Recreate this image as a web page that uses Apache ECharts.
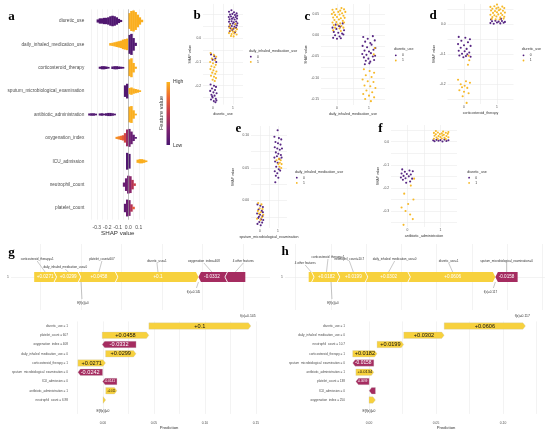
<!DOCTYPE html>
<html lang="en">
<head>
<meta charset="utf-8">
<title>SHAP summary, dependence, force and waterfall plots</title>
<script src="https://cdn.jsdelivr.net/npm/echarts@6/dist/echarts.min.js"></script>
<style>
  html, body { margin: 0; height: 100%; background: #fff; }
  #main { width: 550px; height: 437px; }
</style>
</head>
<body>
<div id="main"></div>
<script>
// ---------- panel a: beeswarm summary ----------
const featuresA = ['diuretic_use', 'daily_inhaled_medication_use', 'corticosteroid_therapy',
  'sputum_microbiological_examination', 'antibiotic_administration', 'oxygenation_index',
  'ICU_admission', 'neutrophil_count', 'platelet_count'];
// [SHAP value, relative density, feature value 0 (low) .. 1 (high)]
const swarmDiuretic = [[-0.29,0.15,0.03],[-0.27,0.25,0.03],[-0.25,0.25,0.03],[-0.23,0.3,0.03],[-0.21,0.3,0.03],
  [-0.19,0.35,0.03],[-0.17,0.45,0.03],[-0.15,0.5,0.03],[-0.13,0.45,0.03],[-0.11,0.35,0.03],[-0.09,0.2,0.03],[-0.07,0.1,0.03],
  [0.01,0.75,0.98],[0.03,0.95,0.98],[0.05,1.0,0.98],[0.07,0.85,0.98],[0.09,0.6,0.98],[0.11,0.35,0.98],[0.13,0.12,0.98]];
const swarmDaily = [[-0.17,0.12,0.98],[-0.15,0.15,0.98],[-0.13,0.2,0.98],[-0.11,0.25,0.98],[-0.09,0.3,0.98],
  [-0.07,0.35,0.98],[-0.05,0.45,0.98],[-0.03,0.5,0.98],[-0.01,0.55,0.98],
  [0.01,0.9,0.03],[0.03,1.0,0.03],[0.05,0.6,0.03],[0.07,0.15,0.03]];
const swarmCortico = [[-0.27,0.1,0.03],[-0.25,0.15,0.03],[-0.23,0.15,0.03],[-0.21,0.12,0.03],[-0.19,0.08,0.03],
  [-0.15,0.12,0.03],[-0.13,0.15,0.03],[-0.11,0.15,0.03],[-0.09,0.12,0.03],[-0.07,0.1,0.03],[-0.05,0.08,0.03],
  [0.01,0.8,0.98],[0.03,0.9,0.98],[0.05,0.45,0.98],[0.07,0.1,0.98]];
const swarmSputum = [[-0.03,0.55,0.03],[-0.01,0.7,0.03],
  [0.01,0.3,0.98],[0.03,0.35,0.98],[0.05,0.25,0.98],[0.07,0.2,0.98],[0.09,0.15,0.98],[0.11,0.08,0.98]];
const swarmAntibiotic = [[-0.37,0.1,0.03],[-0.35,0.12,0.03],[-0.33,0.12,0.03],[-0.31,0.08,0.03],[-0.27,0.1,0.03],
  [-0.25,0.12,0.03],[-0.23,0.08,0.03],[-0.21,0.12,0.03],[-0.19,0.15,0.03],[-0.17,0.15,0.03],[-0.15,0.12,0.03],[-0.13,0.08,0.03],
  [0.01,0.75,0.98],[0.03,0.8,0.98],[0.05,0.4,0.98],[0.07,0.08,0.98]];
const swarmOxygen = [[-0.11,0.1,0.9],[-0.09,0.15,0.85],[-0.07,0.2,0.8],[-0.05,0.25,0.7],[-0.03,0.45,0.6],
  [-0.01,0.8,0.35],[0.01,0.85,0.2],[0.03,0.6,0.15],[0.05,0.3,0.1],[0.07,0.08,0.05]];
const swarmIcu = [[-0.01,0.8,0.03],[0.01,0.7,0.03],
  [0.09,0.15,0.98],[0.11,0.2,0.98],[0.13,0.2,0.98],[0.15,0.15,0.98],[0.17,0.08,0.98]];
const swarmNeutrophil = [[-0.04,0.2,0.15],[-0.02,0.6,0.15],[0.0,0.85,0.2],[0.02,0.8,0.3],[0.04,0.45,0.45],[0.06,0.12,0.55]];
const swarmPlatelet = [[-0.03,0.4,0.1],[-0.01,0.8,0.15],[0.01,0.75,0.25],[0.03,0.35,0.45],[0.05,0.12,0.7]];
const swarmRows = [swarmDiuretic, swarmDaily, swarmCortico, swarmSputum, swarmAntibiotic,
  swarmOxygen, swarmIcu, swarmNeutrophil, swarmPlatelet];
const ticksA = [-0.35,-0.3,-0.25,-0.2,-0.15,-0.1,-0.05,0,0.05,0.1,0.15];
const labelsA = [-0.3,-0.2,-0.1,0,0.1];

// ---------- panels b-f: dependence plots, [feature value (jittered), SHAP value] ----------
const bColor0 = [[0.80,0.112],[0.92,0.118],[1.05,0.110],[1.18,0.105],[0.85,0.100],[0.97,0.103],[1.10,0.098],[1.21,0.095],
  [0.79,0.090],[0.90,0.092],[1.02,0.088],[1.14,0.090],[0.83,0.080],[0.95,0.082],[1.08,0.079],[1.20,0.083],[0.80,0.070],
  [0.93,0.072],[1.04,0.068],[1.16,0.071],[0.86,0.060],[0.99,0.062],[1.12,0.058],[1.22,0.063],[0.81,0.050],[0.94,0.052],
  [1.07,0.048],[1.19,0.054],[0.88,0.042],[1.01,0.040],[1.15,0.044],[0.84,0.030],[1.10,0.025],[0.96,0.035],
  [-0.12,-0.195],[0.05,-0.200],[0.15,-0.205],[-0.05,-0.212],[0.10,-0.218],[-0.14,-0.222],[0.02,-0.228],[0.18,-0.232],
  [-0.08,-0.238],[0.08,-0.242],[-0.02,-0.250],[0.14,-0.255],[-0.10,-0.258],[0.04,-0.265],[0.12,-0.270],[-0.04,-0.245],
  [0.17,-0.262],[-0.10,-0.068],[0.06,-0.075],[-0.02,-0.090],[0.12,-0.085],[0.16,-0.100]];
const bColor1 = [[0.82,0.045],[0.95,0.040],[1.08,0.042],[1.20,0.038],[0.87,0.032],[1.00,0.028],[1.13,0.030],[0.80,0.022],
  [0.93,0.018],[1.06,0.020],[1.18,0.016],[0.90,0.010],[1.03,0.008],[0.85,0.055],[1.12,0.060],
  [-0.12,-0.062],[0.04,-0.070],[0.16,-0.078],[-0.06,-0.085],[0.10,-0.092],[-0.14,-0.100],[0.00,-0.105],[0.14,-0.112],
  [-0.08,-0.118],[0.07,-0.122],[-0.13,-0.130],[0.02,-0.135],[0.17,-0.140],[-0.04,-0.145],[0.11,-0.150],[-0.10,-0.158],
  [0.05,-0.162],[0.15,-0.168],[-0.02,-0.175],[0.09,-0.180]];
const cColor0 = [[-0.14,0.018],[-0.02,0.015],[0.10,0.020],[0.22,0.012],[-0.10,0.008],[0.04,0.006],[0.16,0.004],[-0.06,0.000],
  [0.08,-0.003],[0.20,0.002],[-0.12,-0.006],[0.00,-0.008],[0.12,-0.007],[-0.04,0.025],[0.18,0.028],[0.06,0.022],
  [0.82,-0.004],[0.96,-0.008],[1.12,-0.002],[0.88,-0.015],[1.04,-0.018],[1.18,-0.012],[0.80,-0.025],[0.94,-0.028],
  [1.08,-0.022],[1.20,-0.030],[0.86,-0.036],[1.00,-0.038],[1.14,-0.034],[0.79,-0.044],[0.92,-0.046],[1.06,-0.042],
  [1.19,-0.048],[0.84,-0.052],[0.98,-0.055],[1.12,-0.050],[0.90,-0.060],[1.04,-0.062],[1.16,-0.058],[0.87,-0.068],[1.01,-0.066]];
const cColor1 = [[-0.14,0.060],[-0.02,0.062],[0.10,0.058],[0.22,0.061],[-0.10,0.054],[0.04,0.055],[0.16,0.052],[-0.06,0.048],
  [0.08,0.049],[0.20,0.046],[-0.12,0.042],[0.00,0.043],[0.12,0.040],[0.24,0.041],[-0.08,0.036],[0.06,0.037],[0.18,0.034],
  [-0.14,0.030],[-0.02,0.031],[0.10,0.028],[0.22,0.030],[-0.10,0.024],[0.02,0.025],[0.14,0.022],[-0.06,0.018],[0.08,0.016],
  [0.20,0.018],[-0.12,0.012],[0.12,0.010],[-0.16,0.050],[0.26,0.055],[0.14,0.064],
  [0.84,-0.080],[1.02,-0.084],[1.16,-0.088],[0.90,-0.094],[1.08,-0.098],[0.80,-0.104],[0.96,-0.108],[1.14,-0.110],
  [0.86,-0.118],[1.04,-0.120],[1.20,-0.124],[0.92,-0.130],[1.10,-0.134],[0.82,-0.138],[1.00,-0.142],[1.16,-0.146],
  [0.88,-0.150],[1.06,-0.155],[1.18,-0.030],[1.15,-0.045]];
const dColor0 = [[0.80,0.004],[0.90,0.002],[1.00,0.006],[1.10,0.003],[1.20,0.005],[0.85,0.010],[0.95,0.012],[1.05,0.009],
  [1.15,0.011],[1.24,0.008],[0.82,0.016],[1.12,0.018],
  [-0.16,-0.042],[0.04,-0.045],[0.18,-0.050],[-0.08,-0.055],[0.12,-0.060],[-0.18,-0.066],[0.00,-0.070],[0.20,-0.072],
  [-0.10,-0.078],[0.08,-0.082],[-0.16,-0.088],[0.02,-0.090],[0.16,-0.094],[-0.06,-0.098],[0.10,-0.100],[-0.14,-0.104],
  [0.06,-0.106],[0.20,-0.108],[-0.02,-0.110]];
const dColor1 = [[0.80,0.058],[0.92,0.060],[1.04,0.056],[1.16,0.059],[0.86,0.052],[0.98,0.053],[1.10,0.050],[1.22,0.054],
  [0.82,0.046],[0.94,0.044],[1.06,0.047],[1.18,0.045],[0.88,0.038],[1.00,0.040],[1.12,0.037],[1.24,0.039],[0.80,0.032],
  [0.92,0.030],[1.04,0.033],[1.16,0.031],[0.86,0.024],[0.98,0.026],[1.10,0.023],[1.22,0.025],[0.84,0.018],[0.96,0.017],
  [1.08,0.016],[1.20,0.019],[1.00,0.066],
  [0.14,-0.105],[0.16,-0.120],[0.12,-0.135],[-0.18,-0.185],[0.06,-0.190],[0.18,-0.195],[-0.10,-0.200],[0.02,-0.205],
  [-0.06,-0.210],[0.10,-0.212],[-0.14,-0.220],[0.00,-0.225],[0.14,-0.230],[-0.04,-0.240],[0.08,-0.262]];
const eColor0 = [[0.98,0.108],[0.80,0.098],[1.05,0.096],[1.18,0.094],[0.86,0.090],[1.00,0.088],[1.14,0.086],[0.82,0.082],
  [0.96,0.080],[1.10,0.078],[1.22,0.080],[0.88,0.074],[1.02,0.072],[1.16,0.070],[0.80,0.066],[0.94,0.068],[1.08,0.064],
  [1.20,0.066],[0.84,0.060],[0.98,0.058],[0.90,0.052],[1.04,0.048],[0.82,0.045],[0.96,0.042],[1.12,0.046],[0.88,0.038],
  [1.02,0.035],[0.85,0.028],
  [-0.14,-0.006],[0.02,-0.008],[0.16,-0.010],[-0.08,-0.014],[0.10,-0.016],[-0.16,-0.020],[0.00,-0.022],[0.14,-0.024],
  [-0.10,-0.027],[0.06,-0.029],[0.18,-0.030],[-0.04,-0.033],[0.12,-0.034],[-0.14,-0.036],[0.04,-0.038],[0.00,-0.044],
  [0.16,-0.018],[-0.06,-0.025]];
const eColor1 = [[1.05,0.064],[1.15,0.062],[1.10,0.058],[1.20,0.056],[1.08,0.052],[1.18,0.050],[0.92,0.062],[1.02,0.056],
  [-0.10,-0.004],[0.08,-0.006],[-0.02,-0.012],[0.14,-0.013],[-0.12,-0.016],[0.04,-0.018],[0.18,-0.022],[-0.06,-0.020],
  [0.10,-0.026],[-0.16,-0.028],[0.02,-0.030]];
const fColor0 = [[0.82,0.002],[0.94,0.004],[1.06,0.001],[1.18,0.003],[0.88,0.008],[1.00,0.007],[1.12,0.009],[1.24,0.006],[0.78,0.006],
  [-0.16,-0.120],[0.06,-0.125],[-0.08,-0.130],[0.16,-0.128],[-0.18,-0.138],[-0.02,-0.140],[0.10,-0.142],[-0.12,-0.148],
  [0.04,-0.150],[-0.20,-0.155],[-0.06,-0.158],[0.14,-0.160],[-0.14,-0.165],[0.08,-0.172],[-0.04,-0.178]];
const fColor1 = [[0.80,0.038],[0.92,0.040],[1.04,0.036],[1.16,0.039],[1.24,0.042],[0.86,0.032],[0.98,0.033],[1.10,0.030],
  [1.22,0.034],[0.82,0.026],[0.94,0.024],[1.06,0.027],[1.18,0.025],[0.88,0.018],[1.00,0.020],[1.12,0.017],[1.24,0.019],
  [0.80,0.013],[0.92,0.012],[1.04,0.014],[1.16,0.011],[0.86,0.046],[1.08,0.044],
  [0.20,-0.160],[0.10,-0.190],[-0.10,-0.225],[0.18,-0.250],[-0.18,-0.285],[-0.06,-0.300],[0.08,-0.315],[0.16,-0.335],
  [-0.12,-0.360],[0.02,-0.270]];

// ---------- panels g/h: force and waterfall ----------
const forceFeaturesG = ['corticosteroid_therapy=1', 'daily_inhaled_medication_use=0', 'platelet_count=607',
  'diuretic_use=1', 'oxygenation_index=408', '4 other features'];
const forceShapG = [0.0271, 0.0299, 0.0458, 0.1, -0.0332, -0.0246];
const waterFeaturesG = ['diuretic_use = 1', 'platelet_count = 607', 'oxygenation_index = 408',
  'daily_inhaled_medication_use = 0', 'corticosteroid_therapy = 1', 'sputum_microbiological_examination = 0',
  'ICU_admission = 0', 'antibiotic_administration = 1', 'neutrophil_count = 6.98'];
const waterShapG = [0.1, 0.0458, -0.0332, 0.0299, 0.0271, -0.0242, -0.0141, 0.011, 0.0027];
const forceFeaturesH = ['4 other features', 'corticosteroid_therapy=1', 'neutrophil_count=10.7',
  'daily_inhaled_medication_use=0', 'diuretic_use=1', 'sputum_microbiological_examination=0'];
const forceShapH = [0.0035, 0.0182, 0.0199, 0.0302, 0.0606, -0.0158];
const waterFeaturesH = ['diuretic_use = 1', 'daily_inhaled_medication_use = 0', 'neutrophil_count = 10.7',
  'corticosteroid_therapy = 1', 'sputum_microbiological_examination = 0', 'antibiotic_administration = 1',
  'platelet_count = 138', 'ICU_admission = 0', 'oxygenation_index = 250'];
const waterShapH = [0.0606, 0.0302, 0.0199, 0.0182, -0.0158, 0.0134, -0.0099, -0.0047, 0.0048];
const baseline = 0;
const forceTicksG = [-0.05, 0, 0.05, 0.1, 0.15, 0.2];
const forceTicksH = [-0.025, 0, 0.025, 0.05, 0.075, 0.1, 0.125, 0.15];
const waterTicksG = [-0.025, 0, 0.025, 0.05, 0.075, 0.1, 0.125, 0.15];
const waterLabelsG = [0, 0.05, 0.1, 0.15];
const waterTicksH = [0, 0.025, 0.05, 0.075, 0.1, 0.125];
const waterLabelsH = [0, 0.05, 0.1];

// label nudges for force plot annotations (px, relative to the segment centre on the bar top)
const nudgeG = [[-8, -13], [-3, -5], [3, -13], [-1, -11], [-8, -11], [8, -11]];
const nudgeH = [[-6, -9], [1.5, -15], [-4, -13], [6, -13], [-4, -11], [0, -11]];

const FONT = '"Liberation Sans", Arial, sans-serif';
const SERIF = '"Liberation Serif", "Times New Roman", serif';
const TEXT = '#4d4d4d';
const GRIDC = '#ebebeb';
const PURPLE = '#4e1a7c';
const ORANGE = '#f6b51d';
const POS = '#f7d13d';
const NEG = '#a52c60';
const swarmPalette = ['#4a1670', '#7e2272', '#c0374f', '#ee6532', '#fbb41c'];

function fmtShap(v) {
  const s = String(Number(v.toPrecision(3)));
  return (v > 0 ? '+' : '') + s;
}

function valueAxis(grid, min, max, ticks, labels, digits, fs, margin) {
  return {
    type: 'value', gridIndex: grid, min: min, max: max,
    axisLine: { show: false },
    axisTick: { show: false, customValues: ticks },
    axisLabel: {
      show: labels.length > 0, customValues: labels, fontSize: fs, color: TEXT,
      fontFamily: FONT, margin: margin, formatter: v => v.toFixed(digits)
    },
    splitLine: { show: true, lineStyle: { color: GRIDC, width: 0.6 } }
  };
}

const grids = [];
const xAxes = [];
const yAxes = [];
const series = [];
const graphics = [];

// ---- panel a ----
grids.push({ left: 86.3, top: 9.3, width: 63, height: 210.4 });
xAxes.push(Object.assign(valueAxis(0, -0.4, 0.2, ticksA, labelsA, 1, 5, 5), {
  name: 'SHAP value', nameLocation: 'middle', nameGap: 10,
  nameTextStyle: { fontSize: 6.2, color: '#333', fontFamily: FONT }
}));
yAxes.push({
  type: 'category', gridIndex: 0, data: featuresA, inverse: true,
  axisLine: { show: false }, axisTick: { show: false },
  axisLabel: { interval: 0, fontSize: 4.7, color: TEXT, fontFamily: FONT, margin: 2 },
  splitLine: { show: false }
});
const swarmData = [];
swarmRows.forEach((row, i) => row.forEach(p => swarmData.push([p[0], i, p[1], p[2]])));
series.push({
  type: 'scatter', xAxisIndex: 0, yAxisIndex: 0, data: [], z: 1,
  markLine: {
    silent: true, symbol: 'none', label: { show: false },
    lineStyle: { color: '#9a9a9a', width: 0.6, type: 'solid' }, data: [{ xAxis: 0 }]
  }
});
series.push({
  type: 'custom', xAxisIndex: 0, yAxisIndex: 0, data: swarmData, z: 3,
  renderItem: function (params, api) {
    const p = api.coord([api.value(0), api.value(1)]);
    const w = api.size([0.02, 0])[0];
    const band = api.size([0, 1])[1];
    const hh = api.value(2) * band * 0.45;
    return {
      type: 'rect',
      shape: { x: p[0] - w / 2 - 0.2, y: p[1] - hh, width: w + 0.4, height: hh * 2 },
      style: { fill: echarts.color.lerp(api.value(3), swarmPalette) }
    };
  }
});
graphics.push({
  type: 'rect', shape: { x: 166.5, y: 82, width: 3.5, height: 63 },
  style: {
    fill: new echarts.graphic.LinearGradient(0, 0, 0, 1, swarmPalette.slice().reverse().map((c, i, a) => ({ offset: i / (a.length - 1), color: c })))
  }
});
graphics.push({ type: 'text', x: 173, y: 82, style: { text: 'High', fontSize: 5, fontFamily: FONT, fill: '#333', align: 'left', verticalAlign: 'middle' } });
graphics.push({ type: 'text', x: 173, y: 146, style: { text: 'Low', fontSize: 5, fontFamily: FONT, fill: '#333', align: 'left', verticalAlign: 'middle' } });
graphics.push({ type: 'text', x: 161, y: 113, rotation: Math.PI / 2, style: { text: 'Feature value', fontSize: 5.6, fontFamily: FONT, fill: '#333', align: 'center', verticalAlign: 'middle' } });

// ---- panels b-f ----
const depPanels = [
  { grid: { left: 203, top: 3.9, width: 40, height: 100.7 }, yMin: -0.2797, yMax: 0.1451,
    ticks: [-0.25,-0.2,-0.15,-0.1,-0.05,0,0.05,0.1], labels: [-0.2,-0.1,0], digits: 1,
    xName: 'diuretic_use', yGap: 9, legend: [249, 50.7, 'daily_inhaled_medication_use'], pts: [bColor0, bColor1] },
  { grid: { left: 321, top: 4, width: 64, height: 101 }, yMin: -0.164, yMax: 0.0736,
    ticks: [-0.15,-0.125,-0.1,-0.075,-0.05,-0.025,0,0.025,0.05], labels: [-0.15,-0.1,-0.05,0,0.05], digits: 2,
    xName: 'daily_inhaled_medication_use', yGap: 13, legend: [394, 49.3, 'diuretic_use'], pts: [cColor0, cColor1] },
  { grid: { left: 447.5, top: 4, width: 66, height: 100 }, yMin: -0.2657, yMax: 0.0677,
    ticks: [-0.25,-0.2,-0.15,-0.1,-0.05,0,0.05], labels: [-0.2,-0.1,0], digits: 1,
    xName: 'corticosteroid_therapy', yGap: 11, legend: [521.7, 49.3, 'diuretic_use'], pts: [dColor0, dColor1] },
  { grid: { left: 251, top: 126, width: 36, height: 102 }, yMin: -0.0423, yMax: 0.1146,
    ticks: [-0.025,0,0.025,0.05,0.075,0.1], labels: [0,0.05,0.1], digits: 2,
    xName: 'sputum_microbiological_examination', yGap: 16, legend: [295, 171.7, 'daily_inhaled_medication_use'], pts: [eColor0, eColor1] },
  { grid: { left: 391, top: 125, width: 66, height: 102 }, yMin: -0.3693, yMax: 0.0723,
    ticks: [-0.35,-0.3,-0.25,-0.2,-0.15,-0.1,-0.05,0,0.05], labels: [-0.3,-0.2,-0.1,0], digits: 1,
    xName: 'antibiotic_administration', yGap: 9, legend: [467.3, 171.7, 'diuretic_use'], pts: [fColor0, fColor1] }
];
depPanels.forEach((pn, k) => {
  const gi = k + 1;
  grids.push(pn.grid);
  xAxes.push(Object.assign(valueAxis(gi, -0.5, 1.5, [0, 0.5, 1], [0, 1], 0, 3.3, 2), {
    name: pn.xName, nameLocation: 'middle', nameGap: 7,
    nameTextStyle: { fontSize: 3.6, color: '#333', fontFamily: FONT }
  }));
  yAxes.push(Object.assign(valueAxis(gi, pn.yMin, pn.yMax, pn.ticks, pn.labels, pn.digits, 3.3, 2), {
    name: 'SHAP value', nameLocation: 'middle', nameRotate: 90, nameGap: pn.yGap,
    nameTextStyle: { fontSize: 3.4, color: '#333', fontFamily: FONT }
  }));
  [PURPLE, ORANGE].forEach((col, j) => {
    series.push({
      type: 'scatter', xAxisIndex: gi, yAxisIndex: gi, data: pn.pts[j],
      symbolSize: 2.1, itemStyle: { color: col, opacity: 0.95 }, silent: true
    });
  });
  const lx = pn.legend[0], ly = pn.legend[1];
  graphics.push({ type: 'text', x: lx, y: ly, style: { text: pn.legend[2], fontSize: 3.6, fontFamily: FONT, fill: '#333', align: 'left', verticalAlign: 'middle' } });
  ['0', '1'].forEach((t, j) => {
    graphics.push({ type: 'circle', shape: { cx: lx + 1.8, cy: ly + 6 + j * 5.2, r: 0.9 }, style: { fill: j ? ORANGE : PURPLE } });
    graphics.push({ type: 'text', x: lx + 8, y: ly + 6 + j * 5.2, style: { text: t, fontSize: 3.4, fontFamily: FONT, fill: '#333', align: 'left', verticalAlign: 'middle' } });
  });
});

// ---- force plots ----
function forceSegments(shap) {
  const neg = shap.filter(v => v < 0).reduce((s, v) => s + v, 0);
  let cur = baseline + neg;
  const posIdx = shap.map((v, i) => i).filter(i => shap[i] > 0);
  const negIdx = shap.map((v, i) => i).filter(i => shap[i] < 0);
  const out = [];
  posIdx.forEach((i, k) => { out.push([cur, cur + shap[i], 1, shap[i], i, k === 0 ? 1 : 0]); cur += shap[i]; });
  negIdx.forEach((i, k) => { out.push([cur, cur - shap[i], 1, shap[i], i, k === negIdx.length - 1 ? 1 : 0]); cur -= shap[i]; });
  return out;
}
function forceRender(names, nudge) {
  return function (params, api) {
    const a = api.value(0), b = api.value(1), v = api.value(3), i = api.value(4), edge = api.value(5);
    const pa = api.coord([a, 1]), pb = api.coord([b, 1]);
    const x0 = pa[0], x1 = pb[0], m = pa[1], hh = 5, tip = Math.min(2.5, (x1 - x0) / 2), g = 0.9;
    let pts;
    if (v > 0) {
      pts = edge ? [[x0, m - hh], [x1 - tip, m - hh], [x1, m], [x1 - tip, m + hh], [x0, m + hh]]
        : [[x0 - tip + g, m - hh], [x1 - tip, m - hh], [x1, m], [x1 - tip, m + hh], [x0 - tip + g, m + hh], [x0 + g, m]];
    } else {
      pts = edge ? [[x0, m], [x0 + tip, m - hh], [x1, m - hh], [x1, m + hh], [x0 + tip, m + hh]]
        : [[x0, m], [x0 + tip, m - hh], [x1 + tip - g, m - hh], [x1 - g, m], [x1 + tip - g, m + hh], [x0 + tip, m + hh]];
    }
    const cx = (x0 + x1) / 2;
    const txt = fmtShap(v);
    const children = [{ type: 'polygon', shape: { points: pts }, style: { fill: v > 0 ? POS : NEG } }];
    if (x1 - x0 > txt.length * 0.56 * 4.6 + 2) {
      children.push({ type: 'text', x: cx, y: m, style: { text: txt, fontSize: 4.6, fontFamily: FONT, fill: '#fff', align: 'center', verticalAlign: 'middle' } });
    }
    const n = nudge[i];
    children.push({ type: 'line', shape: { x1: cx, y1: m - hh, x2: cx + n[0], y2: m - hh + n[1] + 2 }, style: { stroke: '#777', lineWidth: 0.4 } });
    children.push({ type: 'text', x: cx + n[0], y: m - hh + n[1], style: { text: names[i], fontSize: 3, fontFamily: FONT, fill: '#333', align: 'center', verticalAlign: 'middle' } });
    return { type: 'group', children: children };
  };
}
function forceEnds(fLabel) {
  return function (params, api) {
    const p = api.coord([api.value(0), 1]);
    const isE = params.dataIndex === 0;
    const y0 = p[1] + 5;
    const tx = isE ? p[0] + 2 : p[0] - 5, ty = isE ? y0 + 21 : y0 + 10;
    return {
      type: 'group', children: [
        { type: 'line', shape: { x1: p[0], y1: y0, x2: tx - (isE ? 1 : -3), y2: ty - 4 }, style: { stroke: '#777', lineWidth: 0.4 } },
        { type: 'text', x: tx, y: ty, style: { text: isE ? 'E[f(x)]=' + baseline : fLabel, fontSize: 3, fontFamily: FONT, fill: '#333', align: 'center', verticalAlign: 'middle' } }
      ]
    };
  };
}
function waterSegments(shap) {
  const out = new Array(shap.length);
  let cur = baseline;
  for (let i = shap.length - 1; i >= 0; i--) { out[i] = [cur, cur + shap[i], i, shap[i]]; cur += shap[i]; }
  return out;
}
function waterRender(params, api) {
  const a = api.value(0), b = api.value(1), row = api.value(2), v = api.value(3);
  const pa = api.coord([a, row]), pb = api.coord([b, row]);
  const x0 = pa[0], x1 = pb[0], m = pa[1], hh = 3.2;
  const w = Math.abs(x1 - x0), tip = Math.min(2.5, w), s = v > 0 ? 1 : -1;
  const pts = [[x0, m - hh], [x1 - s * tip, m - hh], [x1, m], [x1 - s * tip, m + hh], [x0, m + hh]];
  const children = [{ type: 'polygon', shape: { points: pts }, style: { fill: v > 0 ? POS : NEG, stroke: '#c8c8c8', lineWidth: 0.3 } }];
  const txt = fmtShap(v);
  const fs = Math.min(5.6, (w - 2) / (txt.length * 0.56));
  if (fs >= 1.5) {
    children.push({ type: 'text', x: (x0 + x1) / 2, y: m, style: { text: txt, fontSize: fs, fontFamily: FONT, fill: v > 0 ? '#111' : '#fff', align: 'center', verticalAlign: 'middle' } });
  }
  return { type: 'group', children: children };
}
function waterEnds(fLabel) {
  return function (params, api) {
    const isE = params.dataIndex === 0;
    const p = api.coord([api.value(0), api.value(1)]);
    return { type: 'text', x: isE ? p[0] : p[0] - 3, y: isE ? p[1] + 1.5 : p[1] - 10, style: { text: isE ? 'E[f(x)]=' + baseline : fLabel, fontSize: 3.4, fontFamily: FONT, fill: '#333', align: 'center', verticalAlign: 'middle' } };
  };
}

const forcePanels = [
  { fg: { left: 11, top: 244, width: 259, height: 66 }, fmin: -0.0864, fmax: 0.2333, fticks: forceTicksG,
    wg: { left: 70, top: 321.4, width: 198, height: 92.5 }, wmin: -0.03235, wmax: 0.1618, wticks: waterTicksG, wlabels: waterLabelsG,
    fnames: forceFeaturesG, fshap: forceShapG, wnames: waterFeaturesG, wshap: waterShapG, nudge: nudgeG },
  { fg: { left: 285, top: 244, width: 260, height: 66 }, fmin: -0.03262, fmax: 0.1518, fticks: forceTicksH,
    wg: { left: 347, top: 321.4, width: 198, height: 92.5 }, wmin: -0.01642, wmax: 0.1313, wticks: waterTicksH, wlabels: waterLabelsH,
    fnames: forceFeaturesH, fshap: forceShapH, wnames: waterFeaturesH, wshap: waterShapH, nudge: nudgeH }
];
forcePanels.forEach(pn => {
  const fx = pn.fshap.reduce((s, v) => s + v, baseline);
  const fLabel = 'f(x)=' + fx.toFixed(3);
  // force
  const gi = grids.length;
  grids.push(pn.fg);
  xAxes.push(valueAxis(gi, pn.fmin, pn.fmax, pn.fticks, [], 2, 3, 2));
  yAxes.push(valueAxis(gi, 0.5, 1.5, [1], [1], 0, 3.4, 2));
  series.push({ type: 'custom', xAxisIndex: gi, yAxisIndex: gi, data: forceSegments(pn.fshap), renderItem: forceRender(pn.fnames, pn.nudge), clip: false });
  series.push({ type: 'custom', xAxisIndex: gi, yAxisIndex: gi, data: [[baseline, 1], [fx, 1]], renderItem: forceEnds(fLabel), clip: false });
  // waterfall
  const wi = grids.length;
  grids.push(pn.wg);
  xAxes.push(Object.assign(valueAxis(wi, pn.wmin, pn.wmax, pn.wticks, pn.wlabels, 2, 3.3, 8), {
    name: 'Prediction', nameLocation: 'middle', nameGap: 12,
    nameTextStyle: { fontSize: 4.2, color: '#333', fontFamily: FONT }
  }));
  yAxes.push({
    type: 'category', gridIndex: wi, data: pn.wnames.concat(['']), inverse: true,
    axisLine: { show: false }, axisTick: { show: false },
    axisLabel: { interval: 0, fontSize: 3.1, color: TEXT, fontFamily: FONT, margin: 2 },
    splitLine: { show: false }
  });
  series.push({ type: 'custom', xAxisIndex: wi, yAxisIndex: wi, data: waterSegments(pn.wshap), renderItem: waterRender, clip: false });
  series.push({ type: 'custom', xAxisIndex: wi, yAxisIndex: wi, data: [[baseline, pn.wnames.length], [fx, 0]], renderItem: waterEnds(fLabel), clip: false });
});

// panel letters
[['a', 11.5, 17], ['b', 197, 16], ['c', 307.5, 17], ['d', 433, 16], ['e', 238.5, 129], ['f', 380.5, 129], ['g', 11.5, 253], ['h', 285, 252]]
  .forEach(l => graphics.push({ type: 'text', x: l[1], y: l[2], z: 100, style: { text: l[0], fontSize: 13, fontWeight: 'bold', fontFamily: SERIF, fill: '#000', align: 'center', verticalAlign: 'middle' } }));

const chart = echarts.init(document.getElementById('main'));
chart.setOption({
  backgroundColor: '#fff',
  animation: false,
  grid: grids,
  xAxis: xAxes,
  yAxis: yAxes,
  series: series,
  graphic: { elements: graphics }
});
</script>
</body>
</html>
